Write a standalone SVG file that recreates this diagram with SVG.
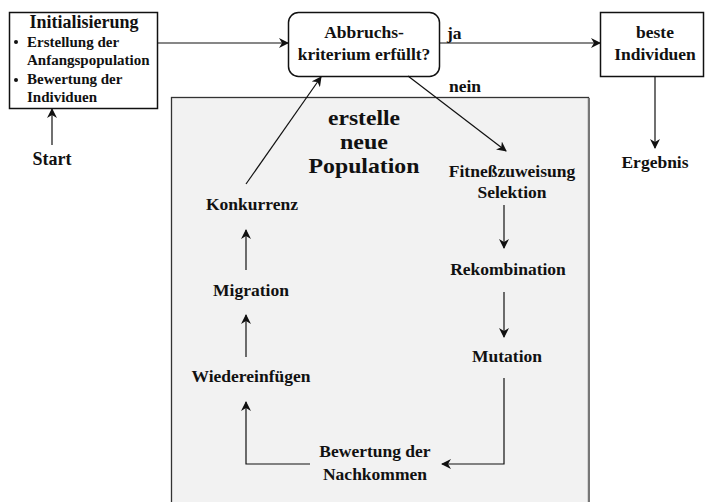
<svg xmlns="http://www.w3.org/2000/svg" width="705" height="502" viewBox="0 0 705 502">
<defs>
<style>
text{font-family:"Liberation Serif","Times New Roman",serif;font-weight:bold;fill:#111;text-anchor:middle}
.s15{font-size:15px}
.s17{font-size:17.5px}
.s18{font-size:18px}
.s22{font-size:21.5px}
.ln{stroke:#111;stroke-width:1.2;fill:none}
.bx{stroke:#111;stroke-width:1.5;fill:#fff}
</style>
<marker id="ah" viewBox="0 0 10 10" refX="9" refY="5" markerWidth="10" markerHeight="10" markerUnits="userSpaceOnUse" orient="auto">
<path d="M0,0 L10,5 L0,10 L3,5 Z" fill="#111"/>
</marker>
</defs>
<rect width="705" height="502" fill="#fff"/>
<g id="population">
<rect x="171.5" y="97.5" width="417" height="410" fill="#f2f2f2" stroke="#333" stroke-width="1.3"/>
<line x1="589" y1="98" x2="589" y2="502" stroke="#777" stroke-width="2"/>
<text class="s22" x="364" y="125" textLength="72" lengthAdjust="spacingAndGlyphs">erstelle</text>
<text class="s22" x="364" y="149" textLength="48" lengthAdjust="spacingAndGlyphs">neue</text>
<text class="s22" x="364" y="173" textLength="111" lengthAdjust="spacingAndGlyphs">Population</text>
</g>
<g id="init">
<rect class="bx" x="9.5" y="12.5" width="148" height="96"/>
<text class="s18" x="84" y="28">Initialisierung</text>
<circle cx="16" cy="42" r="2" fill="#111"/>
<text class="s15" x="27" y="47" style="text-anchor:start">Erstellung der</text>
<text class="s15" x="27" y="65" style="text-anchor:start">Anfangspopulation</text>
<circle cx="16" cy="80" r="2" fill="#111"/>
<text class="s15" x="27" y="84" style="text-anchor:start">Bewertung der</text>
<text class="s15" x="27" y="102" style="text-anchor:start">Individuen</text>
</g>
<g id="start"><text class="s18" x="52" y="165">Start</text></g>
<g id="abbruch">
<rect class="bx" x="288.5" y="12.5" width="151" height="64" rx="10"/>
<text class="s17" x="364" y="38">Abbruchs-</text>
<text class="s17" x="364" y="60">kriterium erfüllt?</text>
</g>
<g id="beste">
<rect class="bx" x="600.5" y="12.5" width="103" height="64"/>
<text class="s17" x="655" y="38">beste</text>
<text class="s17" x="655" y="60">Individuen</text>
</g>
<g id="ergebnis"><text class="s17" x="655" y="168">Ergebnis</text></g>
<g id="fitness">
<text class="s17" x="512" y="177">Fitneßzuweisung</text>
<text class="s17" x="512" y="198">Selektion</text>
</g>
<g id="rekombination"><text class="s17" x="508" y="275">Rekombination</text></g>
<g id="mutation"><text class="s17" x="507" y="362">Mutation</text></g>
<g id="bewertung">
<text class="s17" x="375" y="457">Bewertung der</text>
<text class="s17" x="375" y="480">Nachkommen</text>
</g>
<g id="wiedereinfuegen"><text class="s17" x="251" y="382">Wiedereinfügen</text></g>
<g id="migration"><text class="s17" x="251" y="296">Migration</text></g>
<g id="konkurrenz"><text class="s17" x="252" y="210">Konkurrenz</text></g>
<g id="connectors">
<line class="ln" x1="52" y1="145" x2="52" y2="109" marker-end="url(#ah)"/>
<line class="ln" x1="157" y1="43" x2="288" y2="43" marker-end="url(#ah)"/>
<line class="ln" x1="440" y1="43" x2="600" y2="43" marker-end="url(#ah)"/>
<text class="s17" x="447" y="39" style="text-anchor:start">ja</text>
<line class="ln" x1="655" y1="77" x2="655" y2="148" marker-end="url(#ah)"/>
<line class="ln" x1="408" y1="76" x2="506" y2="151" marker-end="url(#ah)"/>
<text class="s17" x="449" y="92" style="text-anchor:start">nein</text>
<line class="ln" x1="504" y1="205" x2="504" y2="248" marker-end="url(#ah)"/>
<line class="ln" x1="504" y1="292" x2="504" y2="337" marker-end="url(#ah)"/>
<polyline class="ln" points="504,378 504,464 442,464" marker-end="url(#ah)"/>
<polyline class="ln" points="310,464 246,464 246,402" marker-end="url(#ah)"/>
<line class="ln" x1="246" y1="357" x2="246" y2="315" marker-end="url(#ah)"/>
<line class="ln" x1="246" y1="270" x2="246" y2="230" marker-end="url(#ah)"/>
<line class="ln" x1="246" y1="184" x2="321" y2="77" marker-end="url(#ah)"/>
</g>
</svg>
